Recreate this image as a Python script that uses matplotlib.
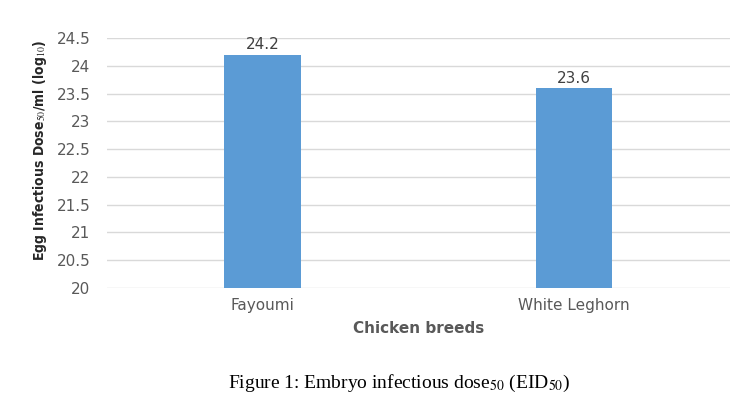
import matplotlib
matplotlib.use('Agg')
import matplotlib.pyplot as plt

breeds = ['Fayoumi', 'White Leghorn']
eid50 = [24.2, 23.6]
yticks = [20, 20.5, 21, 21.5, 22, 22.5, 23, 23.5, 24, 24.5]
ytick_labels = ['20', '20.5', '21', '21.5', '22', '22.5', '23', '23.5', '24', '24.5']

plt.rcParams['mathtext.fontset'] = 'stix'

fig = plt.figure(figsize=(7.4, 4.18), dpi=100)
ax = fig.add_axes([0.1446, 0.311, 0.8414, 0.598])

x = list(range(len(breeds)))
bars = ax.bar(x, eid50, width=0.247, bottom=0, color='#5B9BD5', zorder=3)
ax.set_ylim(20, 24.5)
ax.set_xlim(-0.5, 1.5)
ax.set_yticks(yticks)
ax.set_yticklabels(ytick_labels)
ax.set_xticks(x)
ax.set_xticklabels(breeds)
ax.tick_params(axis='both', length=0, colors='#595959', labelsize=11)
ax.tick_params(axis='y', pad=12)
ax.tick_params(axis='x', pad=7)
ax.grid(axis='y', color='#D9D9D9', linewidth=1, zorder=0)
for s in ax.spines.values():
    s.set_visible(False)

for xi, v in zip(x, eid50):
    ax.text(xi, v + 0.04, f'{v}', ha='center', va='bottom', fontsize=11, color='#404040')

ax.set_xlabel('Chicken breeds', fontsize=11, fontweight='bold', color='#595959', labelpad=6)
fig.text(0.054, 0.641, 'Egg Infectious Dose$_{50}$/ml (log$_{10}$)', rotation=90,
         ha='center', va='center', fontsize=10, fontweight='bold', color='#262626',
         fontstretch='condensed', family=['DejaVu Sans'])

fig.text(0.54, 0.083, 'Figure 1: Embryo infectious dose$_{50}$ (EID$_{50}$)', ha='center', va='center',
         fontsize=14, color='black', family=['Liberation Serif', 'DejaVu Serif'])

fig.savefig('out.png', dpi=100)
